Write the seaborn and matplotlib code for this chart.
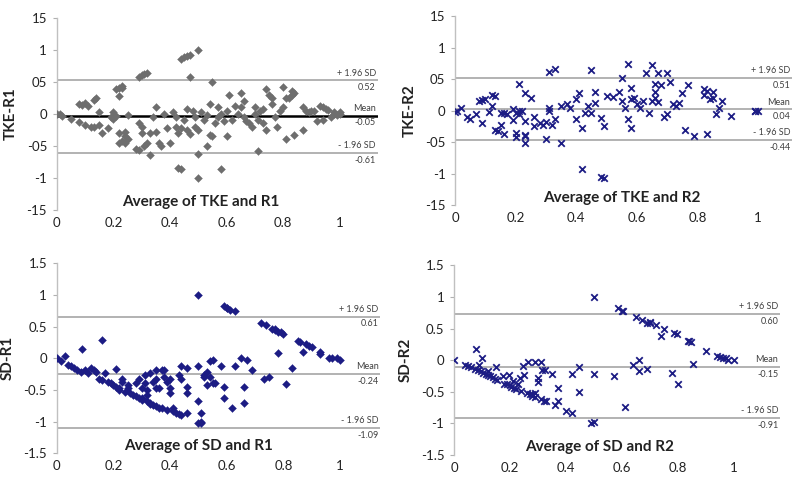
import numpy as np
import pandas as pd
import matplotlib
matplotlib.use("Agg")
import matplotlib.pyplot as plt
import matplotlib.transforms as mtransforms
import seaborn as sns

# --- TKE vs R1 ---
tke_r1_avg = [0, 0.01, 0.02, 0.05, 0.08, 0.08, 0.09, 0.1, 0.1, 0.11, 0.12, 0.13, 0.14, 0.13, 0.15,
              0.15, 0.16, 0.18, 0.19, 0.2, 0.21, 0.22, 0.2, 0.21, 0.22, 0.23, 0.22, 0.23, 0.23, 0.24,
              0.24, 0.25, 0.24, 0.25, 0.22,
              0.28, 0.29, 0.29, 0.3, 0.31, 0.32, 0.3, 0.29, 0.3, 0.31, 0.32, 0.33, 0.33, 0.34, 0.35,
              0.35, 0.36, 0.37, 0.38, 0.39, 0.4, 0.41, 0.42, 0.42, 0.43, 0.43, 0.44, 0.44, 0.45, 0.46,
              0.47, 0.47, 0.5,
              0.44, 0.45, 0.46, 0.46, 0.47, 0.48, 0.49, 0.49, 0.5, 0.5, 0.51, 0.52, 0.53, 0.54, 0.54,
              0.55, 0.55, 0.56, 0.57, 0.57, 0.58, 0.58, 0.59, 0.6, 0.6, 0.5, 0.53,
              0.61, 0.62, 0.63, 0.64, 0.65, 0.65, 0.66, 0.66, 0.67, 0.68, 0.69, 0.7, 0.7, 0.71, 0.71,
              0.72, 0.73, 0.73, 0.74, 0.74, 0.75, 0.76, 0.76, 0.77, 0.78, 0.79, 0.8, 0.8, 0.81, 0.81,
              0.82, 0.83, 0.83, 0.84, 0.84,
              0.87, 0.87, 0.88, 0.89, 0.9, 0.91, 0.92, 0.93, 0.94, 0.94, 0.95, 0.96, 0.97, 0.98, 0.99,
              1.0, 1.0, 0.98]
tke_r1_diff = [0.0, 0.0, -0.03, -0.08, -0.13, 0.15, 0.13, 0.17, -0.18, 0.12, -0.2, 0.22, 0.24, -0.2, 0.03,
               -0.17, -0.3, -0.22, -0.05, 0.02, -0.03, -0.3, -0.08, 0.38, 0.4, 0.41, 0.27, 0.43, -0.42, -0.35,
               -0.28, -0.02, -0.45, -0.4, -0.45,
               -0.55, -0.57, 0.57, 0.6, 0.62, 0.63, -0.2, -0.15, -0.3, -0.5, -0.45, -0.65, -0.3, -0.05, 0.1,
               -0.28, -0.45, -0.5, 0.0, -0.22, -0.45, 0.02, -0.05, -0.2, -0.3, -0.85, -0.87, 0.86, 0.88, 0.9,
               0.92, 0.58, 1.0,
               -0.22, -0.1, -0.25, 0.08, -0.32, 0.05, -0.05, -0.2, -0.25, -0.63, 0.02, -0.1, -0.5, 0.15, -0.33,
               0.5, -0.35, -0.15, 0.1, -0.05, -0.87, 0.0, -0.12, 0.05, -0.35, -1.0, -0.02,
               0.3, -0.1, 0.12, 0.0, 0.32, 0.1, 0.2, -0.05, -0.12, -0.15, -0.2, 0.0, 0.1, -0.58, -0.1,
               0.05, -0.15, 0.08, 0.38, -0.25, 0.3, 0.25, 0.15, -0.05, -0.2, 0.05, 0.42, 0.1, -0.4, 0.25,
               0.25, 0.35, 0.3, -0.33, 0.32,
               -0.26, 0.1, 0.05, 0.03, 0.05, 0.04, -0.12, 0.12, 0.1, -0.1, 0.08, 0.06, -0.05, 0.0, -0.02,
               0.0, 0.02, 0.02]

# --- TKE vs R2 ---
tke_r2_avg = [0, 0.005, 0.02, 0.04, 0.05, 0.07, 0.08, 0.09, 0.09, 0.1, 0.11, 0.12, 0.12, 0.13, 0.13,
              0.14, 0.15, 0.15, 0.16, 0.16, 0.17, 0.19, 0.19, 0.2, 0.2, 0.2, 0.21, 0.21, 0.21, 0.22,
              0.23, 0.23, 0.23, 0.23, 0.23, 0.25, 0.26, 0.26, 0.28, 0.29, 0.3, 0.3, 0.31, 0.31, 0.31,
              0.33, 0.32, 0.33, 0.35, 0.35, 0.37, 0.38, 0.4, 0.4, 0.41, 0.42, 0.43, 0.42, 0.44, 0.45,
              0.45, 0.46, 0.46, 0.48, 0.49, 0.48, 0.49, 0.5, 0.52, 0.54, 0.55, 0.55, 0.56, 0.57, 0.57,
              0.58, 0.58, 0.58, 0.59, 0.6, 0.61, 0.62, 0.63, 0.64, 0.65, 0.65, 0.66, 0.66, 0.66, 0.67,
              0.67, 0.68, 0.69, 0.7, 0.7, 0.71, 0.72, 0.73, 0.74, 0.75, 0.76, 0.77, 0.79, 0.82, 0.82,
              0.83, 0.83, 0.84, 0.85, 0.85, 0.86, 0.87, 0.88, 0.91, 0.99, 1.0, 0.99]
tke_r2_diff = [-0.02, -0.01, 0.05, -0.1, -0.13, -0.05, 0.16, 0.17, -0.2, 0.18, -0.02, 0.07, 0.25, 0.24, -0.3,
               -0.32, -0.22, -0.04, -0.03, -0.37, -0.05, 0.02, -0.15, -0.42, -0.04, -0.36, -0.05, 0.0, 0.43, 0.0,
               -0.38, 0.28, -0.16, -0.51, -0.4, 0.2, -0.1, -0.24, -0.2, -0.22, -0.18, -0.45, 0.04, 0.0, 0.62,
               0.66, -0.23, -0.13, 0.08, -0.51, 0.1, 0.05, -0.13, 0.18, 0.28, -0.93, -0.03, -0.28, 0.07, 0.65,
               -0.03, 0.12, 0.3, -1.06, -1.07, -0.12, -0.24, 0.23, 0.22, 0.3, 0.15, 0.52, 0.05, -0.13, 0.74,
               -0.28, 0.18, 0.36, 0.2, 0.1, 0.05, 0.15, 0.6, -0.03, 0.15, 0.72, 0.2, 0.42, 0.3, 0.6,
               0.14, 0.4, -0.1, -0.05, 0.6, 0.45, 0.1, 0.08, 0.12, 0.28, -0.3, 0.4, -0.41, 0.25, 0.35,
               0.32, -0.37, 0.18, 0.3, 0.2, -0.05, 0.05, 0.15, -0.08, 0.0, 0.0, -0.01]

# --- SD vs R1 ---
sd_r1_avg = [0, 0.015, 0.03, 0.04, 0.05, 0.06, 0.07, 0.085, 0.09, 0.1, 0.11, 0.12, 0.13, 0.14, 0.15,
             0.16, 0.16, 0.17, 0.18, 0.19, 0.2, 0.21, 0.21, 0.22, 0.22, 0.23, 0.23, 0.24, 0.25, 0.25,
             0.26, 0.27, 0.28, 0.28, 0.29, 0.29, 0.3, 0.3, 0.3, 0.31, 0.31, 0.32, 0.32, 0.32, 0.33,
             0.33, 0.33, 0.34, 0.34, 0.35, 0.35, 0.35, 0.35, 0.36, 0.36, 0.37, 0.37, 0.38, 0.38, 0.39,
             0.39, 0.4, 0.4, 0.4, 0.41, 0.41, 0.42, 0.43, 0.43, 0.44, 0.44, 0.44, 0.46, 0.46, 0.46,
             0.46, 0.5, 0.5, 0.5, 0.5, 0.51, 0.51, 0.51, 0.52, 0.52, 0.53, 0.53, 0.54, 0.54, 0.55,
             0.55, 0.56, 0.58, 0.59, 0.59, 0.59, 0.6, 0.6, 0.61, 0.62, 0.63, 0.63, 0.65, 0.66, 0.66,
             0.67, 0.69, 0.72, 0.73, 0.74, 0.75, 0.76, 0.77, 0.77, 0.78, 0.78, 0.79, 0.8, 0.81, 0.83,
             0.85, 0.86, 0.87, 0.88, 0.89, 0.9, 0.93, 0.93, 0.96, 0.97, 0.99, 1.0]
sd_r1_diff = [0, -0.05, 0.04, -0.1, -0.12, -0.15, -0.18, -0.21, 0.15, -0.18, -0.24, -0.15, -0.18, -0.21, -0.32,
              0.29, -0.34, -0.24, -0.37, -0.39, -0.42, -0.17, -0.45, -0.47, -0.5, -0.37, -0.32, -0.53, -0.42, -0.47,
              -0.55, -0.58, -0.39, -0.6, -0.63, -0.32, -0.63, -0.47, -0.66, -0.26, -0.39, -0.68, -0.5, -0.58, -0.71,
              -0.24, -0.73, -0.37, -0.74, -0.32, -0.76, -0.18, -0.47, -0.78, -0.47, -0.18, -0.79, -0.18, -0.29, -0.82,
              -0.37, -0.47, -0.32, -0.55, -0.84, -0.79, -0.87, -0.26, -0.88, -0.12, -0.89, -0.32, -0.45, -0.16, -0.55,
              -0.87, -0.13, -0.67, -1.03, 1.0, -1.0, -0.87, -1.03, -0.29, -0.26, -0.42, -0.21, -0.29, -0.05, -0.39,
              -0.03, -0.39, -0.13, -0.63, -0.45, 0.82, 0.8, 0.79, 0.76, -0.79, -0.13, 0.74, 0.0, -0.71, -0.45,
              -0.03, -0.18, 0.55, -0.32, 0.52, -0.29, 0.47, 0.46, 0.45, 0.42, 0.08, 0.41, 0.38, -0.4, -0.15,
              0.27, 0.26, 0.1, 0.22, 0.2, 0.18, 0.1, 0.06, 0.01, 0.0, 0.0, -0.02]

# --- SD vs R2 ---
sd_r2_avg = [0, 0.04, 0.05, 0.06, 0.075, 0.08, 0.085, 0.09, 0.095, 0.1, 0.105, 0.115, 0.12, 0.12, 0.13,
             0.14, 0.145, 0.15, 0.155, 0.175, 0.18, 0.19, 0.195, 0.2, 0.205, 0.21, 0.215, 0.22, 0.23, 0.235,
             0.24, 0.245, 0.25, 0.26, 0.265, 0.27, 0.28, 0.28, 0.29, 0.29, 0.29, 0.3, 0.3, 0.31, 0.31,
             0.315, 0.32, 0.325, 0.33, 0.35, 0.36, 0.37, 0.37, 0.4, 0.42, 0.42, 0.445, 0.445, 0.49, 0.5,
             0.5, 0.5, 0.57, 0.585, 0.6, 0.605, 0.61, 0.64, 0.65, 0.66, 0.66, 0.67, 0.69, 0.69, 0.7,
             0.7, 0.72, 0.74, 0.75, 0.78, 0.785, 0.795, 0.8, 0.835, 0.84, 0.845, 0.855, 0.9, 0.94, 0.95,
             0.96, 0.97, 0.98, 1.0]
sd_r2_diff = [0, -0.08, -0.09, -0.11, -0.14, 0.17, -0.16, -0.07, -0.17, 0.04, -0.2, -0.22, -0.17, -0.24, -0.25,
              -0.27, -0.29, -0.11, -0.31, -0.25, -0.37, -0.38, -0.23, -0.39, -0.43, -0.33, -0.44, -0.46, -0.38, -0.28,
              -0.48, -0.09, -0.24, -0.52, -0.03, -0.53, -0.54, -0.57, -0.52, -0.59, -0.03, -0.28, -0.34, -0.03, -0.62,
              -0.15, -0.64, -0.15, -0.65, -0.22, -0.71, -0.65, -0.44, -0.8, -0.83, -0.22, -0.11, -0.5, -0.99, -0.97,
              1.0, -0.22, -0.25, 0.82, 0.78, 0.77, -0.74, -0.07, 0.68, 0.01, -0.17, 0.64, -0.14, 0.59, 0.6,
              0.58, 0.55, 0.39, 0.5, -0.21, 0.43, 0.42, -0.37, 0.31, 0.3, 0.29, -0.06, 0.14, 0.06, 0.05,
              0.04, 0.03, 0.01, 0.0]

# limits of agreement: (line position, label)
tke_r1_lines = [(0.52, "+ 1.96 SD", "0.52"), (-0.03, "Mean", "-0.05"), (-0.61, "- 1.96 SD", "-0.61")]
tke_r2_lines = [(0.52, "+ 1.96 SD", "0.51"), (0.02, "Mean", "0.04"), (-0.47, "- 1.96 SD", "-0.44")]
sd_r1_lines = [(0.66, "+ 1.96 SD", "0.61"), (-0.25, "Mean", "-0.24"), (-1.1, "- 1.96 SD", "-1.09")]
sd_r2_lines = [(0.73, "+ 1.96 SD", "0.60"), (-0.11, "Mean", "-0.15"), (-0.91, "- 1.96 SD", "-0.91")]

y_ticks = [-1.5, -1, -0.5, 0, 0.5, 1, 1.5]
y_labels_top = ["-15", "-1", "-05", "0", "05", "1", "15"]
y_labels_bottom = ["-1.5", "-1", "-0.5", "0", "0.5", "1", "1.5"]
x_ticks = [0, 0.2, 0.4, 0.6, 0.8, 1]
x_labels = ["0", "0.2", "0.4", "0.6", "0.8", "1"]

sns.set_style("white")
plt.rcParams['font.family'] = ['Lato', 'DejaVu Sans']

GRAY_PT = "#6e6e6e"
NAVY = "#1c1c84"
LINE = "#a6a6a6"

fig = plt.figure(figsize=(8, 4.78), dpi=100)

panels = [
    # rect, xmax, avg, diff, marker, color, ylabel, xlabel, xlabel_x, lines, ylabels, mean_black
    ([0.071, 0.561, 0.401, 0.402], 1.134, tke_r1_avg, tke_r1_diff, "D", GRAY_PT, "TKE-R1",
     "Average of TKE and R1", 0.51, tke_r1_lines, y_labels_top, True),
    ([0.569, 0.571, 0.421, 0.395], 1.112, tke_r2_avg, tke_r2_diff, "x", NAVY, "TKE-R2",
     "Average of TKE and R2", 0.55, tke_r2_lines, y_labels_top, False),
    ([0.071, 0.052, 0.404, 0.397], 1.141, sd_r1_avg, sd_r1_diff, "D", NAVY, "SD-R1",
     "Average of SD and R1", 0.50, sd_r1_lines, y_labels_bottom, False),
    ([0.5675, 0.048, 0.4075, 0.397], 1.164, sd_r2_avg, sd_r2_diff, "x", NAVY, "SD-R2",
     "Average of SD and R2", 0.52, sd_r2_lines, y_labels_bottom, False),
]

for rect, xmax, avg, diff, marker, color, ylabel, xlabel, xlab_x, lines, ylabs, mean_black in panels:
    ax = fig.add_axes(rect)
    df = pd.DataFrame({"avg": avg, "diff": diff})
    if marker == "D":
        sns.scatterplot(data=df, x="avg", y="diff", ax=ax, marker="D", s=16,
                        color=color, edgecolor=color, linewidth=0.3, zorder=3)
    else:
        sns.scatterplot(data=df, x="avg", y="diff", ax=ax, marker="x", s=22,
                        color=color, linewidth=1.3, zorder=3)

    trans = mtransforms.blended_transform_factory(ax.transAxes, ax.transData)
    for i, (yv, top_txt, val_txt) in enumerate(lines):
        if i == 1 and mean_black:
            ax.axhline(yv, color="black", lw=1.8, zorder=2)
        else:
            ax.axhline(yv, color=LINE, lw=1.2, zorder=2)
        ax.annotate(top_txt, xy=(0.995, yv), xycoords=trans, xytext=(0, 2),
                    textcoords="offset points", ha="right", va="bottom",
                    fontsize=6.5, color="#404040")
        ax.annotate(val_txt, xy=(0.995, yv), xycoords=trans, xytext=(0, -2),
                    textcoords="offset points", ha="right", va="top",
                    fontsize=6.5, color="#404040")

    ax.set_xlim(0, xmax)
    ax.set_ylim(-1.5, 1.5)
    ax.set_yticks(y_ticks)
    ax.set_yticklabels(ylabs, fontsize=9.5, color="#222222")
    ax.set_xticks(x_ticks)
    ax.set_xticklabels(x_labels, fontsize=9.5, color="#222222")
    ax.tick_params(axis="y", left=True, length=3, width=0.8, color="#b0b0b0", pad=4)
    ax.tick_params(axis="x", bottom=False, length=0, pad=5)

    for side in ["top", "right", "bottom"]:
        ax.spines[side].set_visible(False)
    ax.spines["left"].set_color("#c0c0c0")
    ax.spines["left"].set_linewidth(1.0)

    ax.set_xlabel("")
    ax.set_ylabel(ylabel, fontsize=11, fontweight="bold", color="#222222", labelpad=6)
    ax.text(xlab_x, -1.38, xlabel, ha="center", va="center", fontsize=11,
            fontweight="bold", color="#222222")

fig.savefig("out.png", dpi=100)
